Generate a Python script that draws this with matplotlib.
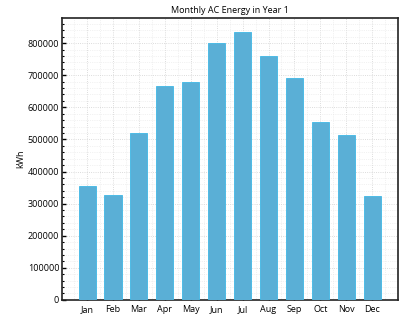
import matplotlib
matplotlib.use("Agg")
import matplotlib.pyplot as plt
from matplotlib.ticker import MultipleLocator

months = ['Jan', 'Feb', 'Mar', 'Apr', 'May', 'Jun', 'Jul', 'Aug', 'Sep', 'Oct', 'Nov', 'Dec']
energy = [355000, 327000, 520000, 668000, 680000, 802000, 836000, 760000, 690000, 555000, 514000, 324000]

plt.rcParams['font.family'] = ['Open Sans', 'DejaVu Sans']

fig = plt.figure(figsize=(4.05, 3.18), dpi=100)
ax = fig.add_axes([0.153, 0.057, 0.83, 0.886])

x = list(range(len(months)))
ax.bar(x, energy, width=0.66, color='#5aafd6', edgecolor='#3fb8e6', linewidth=0.6, zorder=3)

ax.set_xlim(-0.97, 12.0)
ax.set_ylim(0, 878000)
ax.set_xticks(x)
ax.set_xticklabels(months)
ax.yaxis.set_major_locator(MultipleLocator(100000))
ax.yaxis.set_minor_locator(MultipleLocator(20000))
ax.xaxis.set_minor_locator(MultipleLocator(0.5))

ax.grid(which='major', color='#d0d0d0', linestyle=':', linewidth=0.6, zorder=0)
ax.grid(which='minor', color='#e6e6e6', linestyle=':', linewidth=0.5, zorder=0)

ax.tick_params(axis='both', which='major', direction='in', length=3, width=1, labelsize=6.5, pad=2)
ax.tick_params(axis='both', which='minor', direction='in', length=1.5, width=0.8)
ax.tick_params(axis='x', which='minor', length=0)
ax.tick_params(axis='x', which='major', pad=4)

for s in ax.spines.values():
    s.set_linewidth(1.2)
    s.set_color('#222222')

ax.set_title('Monthly AC Energy in Year 1', fontsize=6.5, pad=4)
ax.set_ylabel('kWh', fontsize=6.5, labelpad=2)

fig.savefig('out.png', dpi=100)
